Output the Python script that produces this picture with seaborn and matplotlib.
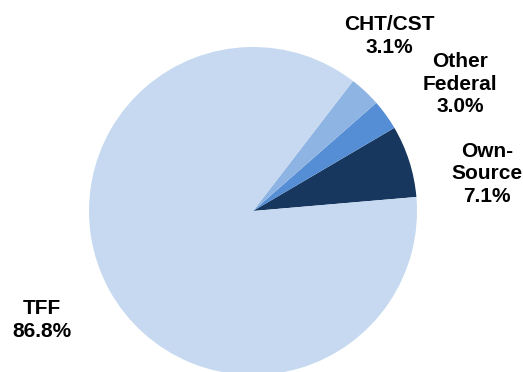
import matplotlib
matplotlib.use("Agg")
import matplotlib.pyplot as plt
import seaborn as sns

sns.set_style("white")
plt.rcParams['font.family'] = ['Liberation Sans', 'DejaVu Sans']

categories = ["Own-\nSource", "Other\nFederal", "CHT/CST", "TFF"]
values = [7.1, 3.0, 3.1, 86.8]
colors = ["#17375E", "#558ED5", "#8EB4E3", "#C6D9F0"]
palette = sns.color_palette(colors)

fig = plt.figure(figsize=(5.23, 3.72), dpi=100)
ax = fig.add_axes([0, 0, 1, 1])
wedges, _ = ax.pie(values, colors=palette, startangle=4.9, counterclock=True,
                   radius=1.0, wedgeprops=dict(linewidth=0))

label_pos = [(1.427, 0.226), (1.262, 0.774), (0.829, 1.067), (-1.287, -0.665)]
for cat, v, (x, y) in zip(categories, values, label_pos):
    ax.text(x, y, f"{cat}\n{v:.1f}%", ha="center", va="center",
            fontsize=15, fontweight="bold", linespacing=1.25, color="black")

ax.set_xlim(-253 / 164, (523 - 253) / 164)
ax.set_ylim(-(372 - 211) / 164, 211 / 164)
ax.set_aspect("auto")
ax.axis("off")
fig.savefig("out.png", dpi=100)
